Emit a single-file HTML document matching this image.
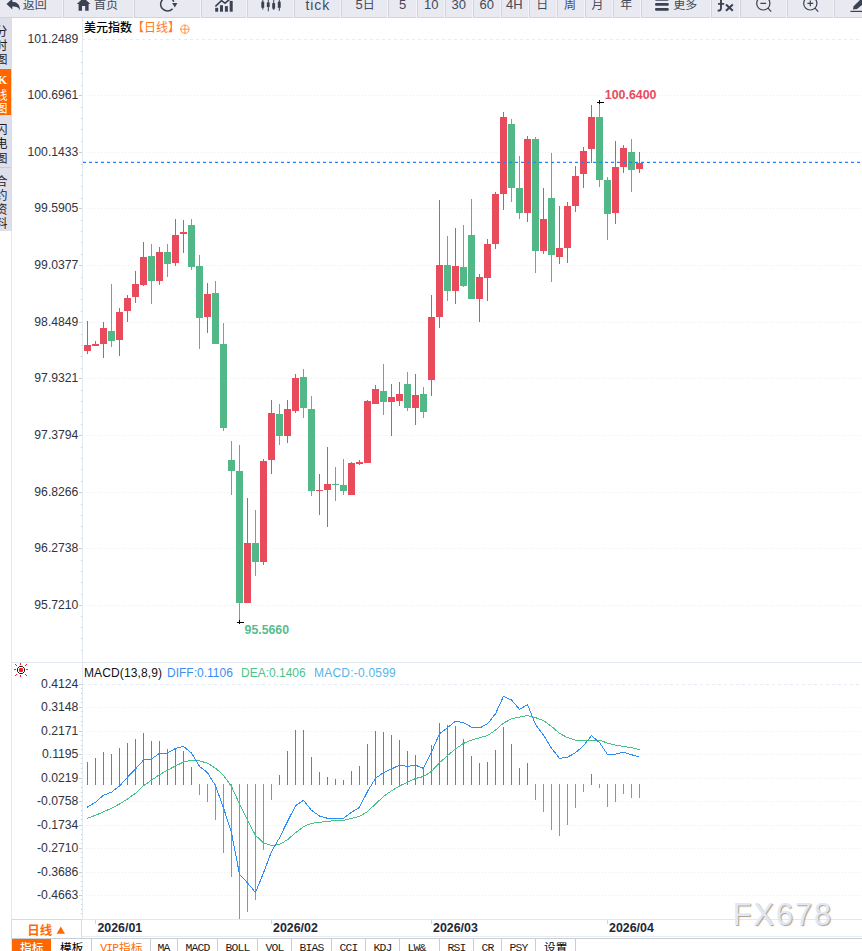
<!DOCTYPE html>
<html><head><meta charset="utf-8"><title>chart</title><style>
html,body{margin:0;padding:0;background:#fff;width:862px;height:951px;overflow:hidden}
#root{width:862px;height:951px;position:relative;overflow:hidden;font-family:"Liberation Sans",sans-serif}
.t{position:absolute;white-space:pre;line-height:1;margin:0}
.yl{font-size:12.2px;color:#30343f;text-align:right;width:66.4px;left:12px}
.tb{font-size:13px;color:#434a59}
.dt{font-size:12.4px;font-weight:bold;color:#23283a;top:921.6px}
.tab{font-family:"Liberation Mono",monospace;font-size:11.4px;color:#1a1a1a;top:942.6px;letter-spacing:-0.84px}
svg text{font-family:"Liberation Sans","Noto Sans CJK SC",sans-serif}
</style></head><body><div id="root">
<svg width="862" height="951" viewBox="0 0 862 951" shape-rendering="crispEdges" style="position:absolute;left:0;top:0">
<rect width="862" height="951" fill="#fff"/>
<g fill="#e1e8f0">
<rect x="11" y="18" width="1" height="933"/>
<rect x="82" y="18" width="1" height="902"/>
<rect x="12" y="662" width="850" height="1"/>
<rect x="12" y="919" width="850" height="1"/>
</g>
<g stroke="#eaeef2" stroke-width="1" fill="none">
<path d="M82 39.5 H862" stroke-dasharray="3 3" stroke="#e5ecf3"/>
<path d="M86 95.5 H862" stroke-dasharray="1 2"/>
<path d="M86 152.5 H862" stroke-dasharray="1 2"/>
<path d="M86 208.5 H862" stroke-dasharray="1 2"/>
<path d="M86 265.5 H862" stroke-dasharray="1 2"/>
<path d="M86 322.5 H862" stroke-dasharray="1 2"/>
<path d="M86 378.5 H862" stroke-dasharray="1 2"/>
<path d="M86 435.5 H862" stroke-dasharray="1 2"/>
<path d="M86 492.5 H862" stroke-dasharray="1 2"/>
<path d="M86 548.5 H862" stroke-dasharray="1 2"/>
<path d="M86 605.5 H862" stroke-dasharray="1 2"/>
<path d="M82 684.5 H862" stroke-dasharray="3 3" stroke="#e5ecf3"/>
<path d="M86 707.5 H862" stroke-dasharray="1 2"/>
<path d="M86 731.5 H862" stroke-dasharray="1 2"/>
<path d="M86 754.5 H862" stroke-dasharray="1 2"/>
<path d="M86 778.5 H862" stroke-dasharray="1 2"/>
<path d="M86 801.5 H862" stroke-dasharray="1 2"/>
<path d="M86 825.5 H862" stroke-dasharray="1 2"/>
<path d="M86 848.5 H862" stroke-dasharray="1 2"/>
<path d="M86 872.5 H862" stroke-dasharray="1 2"/>
<path d="M86 895.5 H862" stroke-dasharray="1 2"/>
</g>
<g fill="#c3cedb">
<rect x="81" y="51" width="1" height="1"/>
<rect x="81" y="62" width="1" height="1"/>
<rect x="81" y="73" width="1" height="1"/>
<rect x="81" y="85" width="1" height="1"/>
<rect x="79" y="95" width="3" height="1"/>
<rect x="81" y="107" width="1" height="1"/>
<rect x="81" y="118" width="1" height="1"/>
<rect x="81" y="129" width="1" height="1"/>
<rect x="81" y="141" width="1" height="1"/>
<rect x="79" y="152" width="3" height="1"/>
<rect x="81" y="164" width="1" height="1"/>
<rect x="81" y="175" width="1" height="1"/>
<rect x="81" y="186" width="1" height="1"/>
<rect x="81" y="198" width="1" height="1"/>
<rect x="79" y="208" width="3" height="1"/>
<rect x="81" y="220" width="1" height="1"/>
<rect x="81" y="231" width="1" height="1"/>
<rect x="81" y="242" width="1" height="1"/>
<rect x="81" y="254" width="1" height="1"/>
<rect x="79" y="265" width="3" height="1"/>
<rect x="81" y="277" width="1" height="1"/>
<rect x="81" y="288" width="1" height="1"/>
<rect x="81" y="299" width="1" height="1"/>
<rect x="81" y="311" width="1" height="1"/>
<rect x="79" y="322" width="3" height="1"/>
<rect x="81" y="334" width="1" height="1"/>
<rect x="81" y="345" width="1" height="1"/>
<rect x="81" y="356" width="1" height="1"/>
<rect x="81" y="368" width="1" height="1"/>
<rect x="79" y="378" width="3" height="1"/>
<rect x="81" y="390" width="1" height="1"/>
<rect x="81" y="401" width="1" height="1"/>
<rect x="81" y="412" width="1" height="1"/>
<rect x="81" y="424" width="1" height="1"/>
<rect x="79" y="435" width="3" height="1"/>
<rect x="81" y="447" width="1" height="1"/>
<rect x="81" y="458" width="1" height="1"/>
<rect x="81" y="469" width="1" height="1"/>
<rect x="81" y="481" width="1" height="1"/>
<rect x="79" y="492" width="3" height="1"/>
<rect x="81" y="504" width="1" height="1"/>
<rect x="81" y="515" width="1" height="1"/>
<rect x="81" y="526" width="1" height="1"/>
<rect x="81" y="538" width="1" height="1"/>
<rect x="79" y="548" width="3" height="1"/>
<rect x="81" y="560" width="1" height="1"/>
<rect x="81" y="571" width="1" height="1"/>
<rect x="81" y="582" width="1" height="1"/>
<rect x="81" y="594" width="1" height="1"/>
<rect x="79" y="605" width="3" height="1"/>
<rect x="81" y="616" width="1" height="1"/>
<rect x="81" y="627" width="1" height="1"/>
<rect x="81" y="638" width="1" height="1"/>
<rect x="81" y="650" width="1" height="1"/>
<rect x="79" y="684" width="3" height="1"/>
<rect x="81" y="688" width="1" height="1"/>
<rect x="81" y="693" width="1" height="1"/>
<rect x="81" y="698" width="1" height="1"/>
<rect x="81" y="702" width="1" height="1"/>
<rect x="79" y="707" width="3" height="1"/>
<rect x="81" y="711" width="1" height="1"/>
<rect x="81" y="716" width="1" height="1"/>
<rect x="81" y="721" width="1" height="1"/>
<rect x="81" y="725" width="1" height="1"/>
<rect x="79" y="731" width="3" height="1"/>
<rect x="81" y="735" width="1" height="1"/>
<rect x="81" y="740" width="1" height="1"/>
<rect x="81" y="745" width="1" height="1"/>
<rect x="81" y="749" width="1" height="1"/>
<rect x="79" y="754" width="3" height="1"/>
<rect x="81" y="758" width="1" height="1"/>
<rect x="81" y="763" width="1" height="1"/>
<rect x="81" y="768" width="1" height="1"/>
<rect x="81" y="772" width="1" height="1"/>
<rect x="79" y="778" width="3" height="1"/>
<rect x="81" y="782" width="1" height="1"/>
<rect x="81" y="787" width="1" height="1"/>
<rect x="81" y="792" width="1" height="1"/>
<rect x="81" y="796" width="1" height="1"/>
<rect x="79" y="801" width="3" height="1"/>
<rect x="81" y="805" width="1" height="1"/>
<rect x="81" y="810" width="1" height="1"/>
<rect x="81" y="815" width="1" height="1"/>
<rect x="81" y="819" width="1" height="1"/>
<rect x="79" y="825" width="3" height="1"/>
<rect x="81" y="829" width="1" height="1"/>
<rect x="81" y="834" width="1" height="1"/>
<rect x="81" y="839" width="1" height="1"/>
<rect x="81" y="843" width="1" height="1"/>
<rect x="79" y="848" width="3" height="1"/>
<rect x="81" y="852" width="1" height="1"/>
<rect x="81" y="857" width="1" height="1"/>
<rect x="81" y="862" width="1" height="1"/>
<rect x="81" y="866" width="1" height="1"/>
<rect x="79" y="872" width="3" height="1"/>
<rect x="81" y="876" width="1" height="1"/>
<rect x="81" y="881" width="1" height="1"/>
<rect x="81" y="886" width="1" height="1"/>
<rect x="81" y="890" width="1" height="1"/>
<rect x="79" y="895" width="3" height="1"/>
<rect x="81" y="899" width="1" height="1"/>
<rect x="81" y="904" width="1" height="1"/>
<rect x="81" y="909" width="1" height="1"/>
<rect x="81" y="913" width="1" height="1"/>
</g>
<g fill="#ea4b5c">
<rect x="87" y="321" width="1" height="33"/>
<rect x="84" y="345" width="7" height="6"/>
<rect x="95" y="341" width="1" height="5"/>
<rect x="92" y="344" width="7" height="2"/>
<rect x="103" y="322" width="1" height="36"/>
<rect x="100" y="328" width="7" height="16"/>
<rect x="119" y="308" width="1" height="48"/>
<rect x="116" y="312" width="7" height="28"/>
<rect x="127" y="295" width="1" height="27"/>
<rect x="124" y="298" width="7" height="13"/>
<rect x="135" y="271" width="1" height="32"/>
<rect x="132" y="284" width="7" height="13"/>
<rect x="143" y="242" width="1" height="44"/>
<rect x="140" y="257" width="7" height="28"/>
<rect x="159" y="247" width="1" height="38"/>
<rect x="156" y="252" width="7" height="29"/>
<rect x="175" y="219" width="1" height="47"/>
<rect x="172" y="235" width="7" height="28"/>
<rect x="183" y="220" width="1" height="33"/>
<rect x="180" y="232" width="7" height="2"/>
<rect x="207" y="283" width="1" height="50"/>
<rect x="204" y="294" width="7" height="23"/>
<rect x="247" y="498" width="1" height="105"/>
<rect x="244" y="543" width="7" height="60"/>
<rect x="263" y="459" width="1" height="106"/>
<rect x="260" y="461" width="7" height="101"/>
<rect x="271" y="400" width="1" height="74"/>
<rect x="268" y="413" width="7" height="47"/>
<rect x="287" y="400" width="1" height="43"/>
<rect x="284" y="409" width="7" height="27"/>
<rect x="295" y="374" width="1" height="39"/>
<rect x="292" y="378" width="7" height="33"/>
<rect x="319" y="474" width="1" height="41"/>
<rect x="316" y="490" width="7" height="1"/>
<rect x="327" y="447" width="1" height="80"/>
<rect x="324" y="484" width="7" height="6"/>
<rect x="351" y="462" width="1" height="33"/>
<rect x="348" y="463" width="7" height="32"/>
<rect x="359" y="460" width="1" height="5"/>
<rect x="356" y="462" width="7" height="2"/>
<rect x="367" y="400" width="1" height="63"/>
<rect x="364" y="401" width="7" height="62"/>
<rect x="375" y="385" width="1" height="19"/>
<rect x="372" y="389" width="7" height="15"/>
<rect x="391" y="384" width="1" height="52"/>
<rect x="388" y="397" width="7" height="5"/>
<rect x="399" y="382" width="1" height="24"/>
<rect x="396" y="394" width="7" height="7"/>
<rect x="415" y="374" width="1" height="51"/>
<rect x="412" y="395" width="7" height="13"/>
<rect x="431" y="295" width="1" height="101"/>
<rect x="428" y="317" width="7" height="63"/>
<rect x="439" y="200" width="1" height="128"/>
<rect x="436" y="265" width="7" height="52"/>
<rect x="455" y="228" width="1" height="76"/>
<rect x="452" y="266" width="7" height="25"/>
<rect x="479" y="274" width="1" height="48"/>
<rect x="476" y="277" width="7" height="22"/>
<rect x="487" y="239" width="1" height="62"/>
<rect x="484" y="244" width="7" height="34"/>
<rect x="495" y="192" width="1" height="57"/>
<rect x="492" y="194" width="7" height="50"/>
<rect x="503" y="112" width="1" height="98"/>
<rect x="500" y="117" width="7" height="77"/>
<rect x="527" y="136" width="1" height="86"/>
<rect x="524" y="139" width="7" height="74"/>
<rect x="543" y="188" width="1" height="66"/>
<rect x="540" y="219" width="7" height="32"/>
<rect x="559" y="206" width="1" height="58"/>
<rect x="556" y="248" width="7" height="9"/>
<rect x="567" y="202" width="1" height="61"/>
<rect x="564" y="206" width="7" height="42"/>
<rect x="575" y="166" width="1" height="46"/>
<rect x="572" y="176" width="7" height="30"/>
<rect x="583" y="147" width="1" height="41"/>
<rect x="580" y="151" width="7" height="23"/>
<rect x="591" y="105" width="1" height="58"/>
<rect x="588" y="117" width="7" height="32"/>
<rect x="615" y="141" width="1" height="83"/>
<rect x="612" y="167" width="7" height="46"/>
<rect x="623" y="145" width="1" height="28"/>
<rect x="620" y="148" width="7" height="19"/>
<rect x="639" y="152" width="1" height="21"/>
<rect x="636" y="163" width="7" height="6"/>
</g>
<g fill="#53b888">
<rect x="111" y="284" width="1" height="63"/>
<rect x="108" y="331" width="7" height="10"/>
<rect x="151" y="244" width="1" height="60"/>
<rect x="148" y="256" width="7" height="25"/>
<rect x="167" y="244" width="1" height="33"/>
<rect x="164" y="252" width="7" height="12"/>
<rect x="191" y="219" width="1" height="51"/>
<rect x="188" y="225" width="7" height="42"/>
<rect x="199" y="255" width="1" height="94"/>
<rect x="196" y="266" width="7" height="52"/>
<rect x="215" y="281" width="1" height="63"/>
<rect x="212" y="293" width="7" height="51"/>
<rect x="223" y="323" width="1" height="108"/>
<rect x="220" y="344" width="7" height="84"/>
<rect x="231" y="441" width="1" height="54"/>
<rect x="228" y="460" width="7" height="11"/>
<rect x="239" y="445" width="1" height="177"/>
<rect x="236" y="471" width="7" height="132"/>
<rect x="255" y="510" width="1" height="66"/>
<rect x="252" y="543" width="7" height="19"/>
<rect x="279" y="404" width="1" height="41"/>
<rect x="276" y="414" width="7" height="22"/>
<rect x="303" y="369" width="1" height="49"/>
<rect x="300" y="377" width="7" height="31"/>
<rect x="311" y="396" width="1" height="100"/>
<rect x="308" y="409" width="7" height="82"/>
<rect x="335" y="467" width="1" height="34"/>
<rect x="332" y="484" width="7" height="1"/>
<rect x="343" y="459" width="1" height="36"/>
<rect x="340" y="485" width="7" height="6"/>
<rect x="383" y="364" width="1" height="51"/>
<rect x="380" y="391" width="7" height="11"/>
<rect x="407" y="372" width="1" height="39"/>
<rect x="404" y="384" width="7" height="24"/>
<rect x="423" y="387" width="1" height="31"/>
<rect x="420" y="394" width="7" height="18"/>
<rect x="447" y="236" width="1" height="65"/>
<rect x="444" y="265" width="7" height="26"/>
<rect x="463" y="225" width="1" height="62"/>
<rect x="460" y="267" width="7" height="19"/>
<rect x="471" y="199" width="1" height="100"/>
<rect x="468" y="235" width="7" height="64"/>
<rect x="511" y="119" width="1" height="83"/>
<rect x="508" y="124" width="7" height="64"/>
<rect x="519" y="156" width="1" height="63"/>
<rect x="516" y="188" width="7" height="25"/>
<rect x="535" y="137" width="1" height="136"/>
<rect x="532" y="139" width="7" height="112"/>
<rect x="551" y="153" width="1" height="129"/>
<rect x="548" y="198" width="7" height="57"/>
<rect x="599" y="102" width="1" height="85"/>
<rect x="596" y="117" width="7" height="63"/>
<rect x="607" y="177" width="1" height="63"/>
<rect x="604" y="180" width="7" height="34"/>
<rect x="631" y="139" width="1" height="53"/>
<rect x="628" y="152" width="7" height="18"/>
</g>
<path d="M83 162.4 H862" stroke="#1b87fb" stroke-width="1.3" stroke-dasharray="3 3" fill="none" shape-rendering="geometricPrecision"/>
<g fill="#000">
<rect x="597" y="102" width="7" height="1"/><rect x="599" y="100" width="1" height="4"/>
<rect x="237" y="622" width="7" height="1"/><rect x="239" y="620" width="1" height="4"/>
</g>
<g fill="#ea4b5c">
<rect x="87" y="762" width="1" height="23"/>
<rect x="95" y="758" width="1" height="27"/>
<rect x="103" y="752" width="1" height="33"/>
<rect x="111" y="754" width="1" height="31"/>
<rect x="119" y="748" width="1" height="37"/>
<rect x="127" y="743" width="1" height="42"/>
<rect x="135" y="739" width="1" height="46"/>
<rect x="143" y="733" width="1" height="52"/>
<rect x="151" y="741" width="1" height="44"/>
<rect x="159" y="741" width="1" height="44"/>
<rect x="167" y="749" width="1" height="36"/>
<rect x="175" y="748" width="1" height="37"/>
<rect x="183" y="751" width="1" height="34"/>
<rect x="191" y="767" width="1" height="18"/>
<rect x="279" y="775" width="1" height="10"/>
<rect x="287" y="751" width="1" height="34"/>
<rect x="295" y="730" width="1" height="55"/>
<rect x="303" y="730" width="1" height="55"/>
<rect x="311" y="757" width="1" height="28"/>
<rect x="319" y="772" width="1" height="13"/>
<rect x="327" y="777" width="1" height="8"/>
<rect x="335" y="779" width="1" height="6"/>
<rect x="343" y="780" width="1" height="5"/>
<rect x="351" y="771" width="1" height="14"/>
<rect x="359" y="766" width="1" height="19"/>
<rect x="367" y="744" width="1" height="41"/>
<rect x="375" y="731" width="1" height="54"/>
<rect x="383" y="732" width="1" height="53"/>
<rect x="391" y="735" width="1" height="50"/>
<rect x="399" y="740" width="1" height="45"/>
<rect x="407" y="751" width="1" height="34"/>
<rect x="415" y="755" width="1" height="30"/>
<rect x="423" y="767" width="1" height="18"/>
<rect x="431" y="745" width="1" height="40"/>
<rect x="439" y="723" width="1" height="62"/>
<rect x="447" y="725" width="1" height="60"/>
<rect x="455" y="726" width="1" height="59"/>
<rect x="463" y="739" width="1" height="46"/>
<rect x="471" y="756" width="1" height="29"/>
<rect x="479" y="763" width="1" height="22"/>
<rect x="487" y="762" width="1" height="23"/>
<rect x="495" y="750" width="1" height="35"/>
<rect x="503" y="727" width="1" height="58"/>
<rect x="511" y="744" width="1" height="41"/>
<rect x="519" y="768" width="1" height="17"/>
<rect x="527" y="763" width="1" height="22"/>
<rect x="591" y="774" width="1" height="11"/>
</g>
<g fill="#53b888">
<rect x="199" y="784" width="1" height="11"/>
<rect x="207" y="784" width="1" height="18"/>
<rect x="215" y="784" width="1" height="36"/>
<rect x="223" y="784" width="1" height="69"/>
<rect x="231" y="784" width="1" height="93"/>
<rect x="239" y="784" width="1" height="135"/>
<rect x="247" y="784" width="1" height="128"/>
<rect x="255" y="784" width="1" height="116"/>
<rect x="263" y="784" width="1" height="66"/>
<rect x="271" y="784" width="1" height="16"/>
<rect x="535" y="784" width="1" height="16"/>
<rect x="543" y="784" width="1" height="28"/>
<rect x="551" y="784" width="1" height="46"/>
<rect x="559" y="784" width="1" height="52"/>
<rect x="567" y="784" width="1" height="41"/>
<rect x="575" y="784" width="1" height="24"/>
<rect x="583" y="784" width="1" height="8"/>
<rect x="599" y="784" width="1" height="4"/>
<rect x="607" y="784" width="1" height="23"/>
<rect x="615" y="784" width="1" height="18"/>
<rect x="623" y="784" width="1" height="10"/>
<rect x="631" y="784" width="1" height="14"/>
<rect x="639" y="784" width="1" height="14"/>
</g>
<g fill="none" stroke-width="1" shape-rendering="crispEdges" stroke-linejoin="round">
<polyline stroke="#45c386" points="87,818.3 95.5,815.3 103.5,811.8 111.5,808.3 119.5,804 127.5,799 135.5,793.2 143.5,785.7 151.5,780.2 159.5,774.7 167.5,770.2 175.5,765.9 183.5,762.1 191.5,760.1 199.5,760.9 207.5,763.1 215.5,768.2 223.5,775.2 231.5,786.5 239.5,804 247.5,820.3 255.5,835.3 263.5,842.9 271.5,845.4 279.5,844.4 287.5,839.8 295.5,832.8 303.5,826.6 311.5,823.3 319.5,822.3 327.5,821.3 335.5,820.6 343.5,820.3 351.5,818.3 359.5,816.5 367.5,811.5 375.5,804 383.5,796.5 391.5,790.7 399.5,786 407.5,782.2 415.5,778.5 423.5,776.5 431.5,771.4 439.5,762.7 447.5,755.7 455.5,748.9 463.5,743.4 471.5,740.1 479.5,737.8 487.5,735.6 495.5,730.1 503.5,723.1 511.5,718.8 519.5,717.1 527.5,715.6 535.5,717.6 543.5,720.6 551.5,726.4 559.5,733.4 567.5,737.6 575.5,740.1 583.5,740.9 591.5,740.1 599.5,740.1 607.5,743.1 615.5,745.2 623.5,746.4 631.5,747.7 639.5,749.7"/>
<polyline stroke="#2a8cf8" points="87,807.3 95.5,802.2 103.5,795.2 111.5,792.2 119.5,786 127.5,777.2 135.5,768.9 143.5,760.1 151.5,758.9 159.5,753.4 167.5,753.1 175.5,748.4 183.5,746.4 191.5,753.1 199.5,766.4 207.5,772.7 215.5,785.7 223.5,807.8 231.5,832.8 239.5,874.2 247.5,882.9 255.5,892.5 263.5,872.9 271.5,851.6 279.5,837.8 287.5,821.5 295.5,805.8 303.5,800.3 311.5,810.3 319.5,816 327.5,818.3 335.5,818.6 343.5,818.3 351.5,812.3 359.5,807.3 367.5,791.5 375.5,778.2 383.5,772.7 391.5,768.9 399.5,765.2 407.5,766.4 415.5,765.2 423.5,768.4 431.5,752.1 439.5,733.9 447.5,727.6 455.5,721.3 463.5,722.6 471.5,727.1 479.5,728 487.5,723.9 495.5,713.8 503.5,696.3 511.5,700 519.5,709.3 527.5,704.6 535.5,724.6 543.5,735.1 551.5,748.2 559.5,758.4 567.5,757.2 575.5,752.7 583.5,745.7 591.5,735.6 599.5,742.6 607.5,754.4 615.5,754.2 623.5,752.2 631.5,754.7 639.5,757.2"/>
</g>
<rect x="0" y="0" width="862" height="17" fill="#e9e9f2"/>
<rect x="0" y="17" width="862" height="1" fill="#d2d3dc"/>
<g>
<rect x="63" y="0" width="1" height="18" fill="#d2d3dc"/><rect x="62" y="0" width="1" height="18" fill="#f3f3f9"/>
<rect x="134" y="0" width="1" height="18" fill="#d2d3dc"/><rect x="133" y="0" width="1" height="18" fill="#f3f3f9"/>
<rect x="201" y="0" width="1" height="18" fill="#d2d3dc"/><rect x="200" y="0" width="1" height="18" fill="#f3f3f9"/>
<rect x="247" y="0" width="1" height="18" fill="#d2d3dc"/><rect x="246" y="0" width="1" height="18" fill="#f3f3f9"/>
<rect x="294" y="0" width="1" height="18" fill="#d2d3dc"/><rect x="293" y="0" width="1" height="18" fill="#f3f3f9"/>
<rect x="341" y="0" width="1" height="18" fill="#d2d3dc"/><rect x="340" y="0" width="1" height="18" fill="#f3f3f9"/>
<rect x="388" y="0" width="1" height="18" fill="#d2d3dc"/><rect x="387" y="0" width="1" height="18" fill="#f3f3f9"/>
<rect x="417" y="0" width="1" height="18" fill="#d2d3dc"/><rect x="416" y="0" width="1" height="18" fill="#f3f3f9"/>
<rect x="445" y="0" width="1" height="18" fill="#d2d3dc"/><rect x="444" y="0" width="1" height="18" fill="#f3f3f9"/>
<rect x="473" y="0" width="1" height="18" fill="#d2d3dc"/><rect x="472" y="0" width="1" height="18" fill="#f3f3f9"/>
<rect x="501" y="0" width="1" height="18" fill="#d2d3dc"/><rect x="500" y="0" width="1" height="18" fill="#f3f3f9"/>
<rect x="529" y="0" width="1" height="18" fill="#d2d3dc"/><rect x="528" y="0" width="1" height="18" fill="#f3f3f9"/>
<rect x="557" y="0" width="1" height="18" fill="#d2d3dc"/><rect x="556" y="0" width="1" height="18" fill="#f3f3f9"/>
<rect x="585" y="0" width="1" height="18" fill="#d2d3dc"/><rect x="584" y="0" width="1" height="18" fill="#f3f3f9"/>
<rect x="613" y="0" width="1" height="18" fill="#d2d3dc"/><rect x="612" y="0" width="1" height="18" fill="#f3f3f9"/>
<rect x="641" y="0" width="1" height="18" fill="#d2d3dc"/><rect x="640" y="0" width="1" height="18" fill="#f3f3f9"/>
<rect x="711" y="0" width="1" height="18" fill="#d2d3dc"/><rect x="710" y="0" width="1" height="18" fill="#f3f3f9"/>
<rect x="740" y="0" width="1" height="18" fill="#d2d3dc"/><rect x="739" y="0" width="1" height="18" fill="#f3f3f9"/>
<rect x="787" y="0" width="1" height="18" fill="#d2d3dc"/><rect x="786" y="0" width="1" height="18" fill="#f3f3f9"/>
<rect x="834" y="0" width="1" height="18" fill="#d2d3dc"/><rect x="833" y="0" width="1" height="18" fill="#f3f3f9"/>
</g>
<g shape-rendering="geometricPrecision">
<path d="M6.5 4.1 L12.3 -1.3 V1.7 C17 1.7 20 4.5 20 10.4 C18.8 7.5 16.6 6.5 12.3 6.5 V9.5 Z" fill="#3b4252"/>
<text x="22.8" y="9" font-size="12" fill="#434a59">返回</text>
<path d="M76.8 4 L83.6 -2.2 L90.4 4 H88.6 V10.7 H85.2 V6 H82 V10.7 H78.6 V4 Z" fill="#3b4252"/>
<text x="94" y="9" font-size="12" fill="#434a59">首页</text>
<path d="M172.6 8.7 A6.8 6.8 0 1 1 173.8 1.8" fill="none" stroke="#3b4252" stroke-width="1.5"/>
<path d="M172.2 3 H177.4 L174.8 7.4 Z" fill="#3b4252"/>
<g fill="#3b4252"><rect x="215.2" y="7.8" width="3" height="3.9"/><rect x="220" y="5.2" width="3" height="6.5"/><rect x="224.9" y="6.1" width="3" height="5.6"/><rect x="229.7" y="0.9" width="3" height="10.8"/></g>
<path d="M215.4 6.4 L221.5 0.6 L225 3.2 L232.4 -3" fill="none" stroke="#3b4252" stroke-width="1.6"/>
<g fill="#3b4252"><rect x="261.3" y="1.7" width="2.9" height="6.1"/><rect x="262.3" y="-3" width="1" height="12.6"/><rect x="266.8" y="2.4" width="2.9" height="4.6"/><rect x="267.8" y="-3" width="1" height="14.3"/><rect x="272.2" y="3.1" width="2.9" height="5.6"/><rect x="273.2" y="-3" width="1" height="13"/><rect x="277.8" y="1.7" width="2.9" height="6.1"/><rect x="278.8" y="-3" width="1" height="13.8"/></g>
<text x="362.7" y="9" font-size="12" fill="#434a59">日</text>
<text x="536.3" y="9" font-size="12" fill="#434a59">日</text>
<text x="564" y="9" font-size="12" fill="#434a59">周</text>
<text x="591.5" y="9" font-size="12" fill="#434a59">月</text>
<text x="620.3" y="9" font-size="12" fill="#434a59">年</text>
<text x="673.3" y="9" font-size="12" fill="#434a59">更多</text>
<g fill="#3b4252"><rect x="655" y="-1.9" width="13.8" height="2.7" rx="1.3"/><rect x="655" y="3.1" width="13.8" height="2.7" rx="1.3"/><rect x="655" y="8" width="13.8" height="2.7" rx="1.3"/></g>
<g fill="none" stroke="#3b4252" stroke-width="1.2"><circle cx="763.3" cy="3.4" r="6.6"/><path d="M768 8.2 L771.2 11.6 M760.4 3.4 H766.2"/><circle cx="810.3" cy="3.4" r="6.6"/><path d="M815 8.2 L818.2 11.6 M807.4 3.4 H813.2 M810.3 0.5 V6.3"/></g>
<path d="M725.4 -2.6 C722.6 -3.2 721 -2 721 0.6 V8 C721 10 720 10.8 717.6 10.6 M718 3.9 H724.2" fill="none" stroke="#3b4252" stroke-width="1.9"/>
<path d="M726 4.4 L732.8 10.8 M732.8 4.4 L726 10.8" fill="none" stroke="#3b4252" stroke-width="2"/>
<path d="M853 9.6 L853.6 6.2 L862 -2 L866 2 L857 9 Z" fill="#3b4252"/><rect x="850.4" y="10.8" width="12" height="1.2" fill="#3b4252"/>
</g>
<rect x="0" y="18" width="12" height="213" fill="#dedfe8"/>
<rect x="11" y="18" width="1" height="213" fill="#d9dbe5"/>
<rect x="0" y="69" width="11" height="46" fill="#ff6600"/>
<rect x="0" y="167" width="11" height="1" fill="#c9cbd6"/>
<g shape-rendering="geometricPrecision" font-size="12" text-anchor="middle">
<g fill="#1c1c28">
<text x="1.5" y="35.8">分</text>
<text x="1.5" y="49.8">时</text>
<text x="1.5" y="64.2">图</text>
</g>
<g fill="#fff">
<text x="1.5" y="100.3">线</text>
<text x="1.5" y="113.4">图</text>
</g>
<g fill="#1c1c28">
<text x="1.5" y="134">闪</text>
<text x="1.5" y="148.4">电</text>
<text x="1.5" y="163.2">图</text>
<text x="1.5" y="186.3">合</text>
<text x="1.5" y="200">约</text>
<text x="1.5" y="213.8">资</text>
<text x="1.5" y="227.5">料</text>
</g>
</g>
<g shape-rendering="geometricPrecision">
<text x="84" y="31.8" font-size="12" fill="#000"><tspan font-weight="500">美元指数</tspan><tspan fill="#ff7a1a">【日线】</tspan></text>
<circle cx="184.9" cy="29.2" r="4.2" fill="none" stroke="#ff7a1a" stroke-width="0.8"/><path d="M180.7 29.2 H189.1 M184.9 25 V33.4" stroke="#ff7a1a" stroke-width="0.8" fill="none"/>
</g>
<path d="M19.5 666.5 H22.5 L24.5 668.5 V671.5 L22.5 673.5 H19.5 L17.5 671.5 V668.5 Z" fill="#fff" stroke="#111" stroke-width="1" shape-rendering="geometricPrecision"/>
<g fill="#ff1a1a"><rect x="19" y="668" width="4" height="4" rx="1" shape-rendering="geometricPrecision"/>
<rect x="20" y="663" width="1" height="2"/>
<rect x="20" y="675" width="1" height="2"/>
<rect x="14" y="669" width="2" height="1"/>
<rect x="26" y="669" width="2" height="1"/>
<rect x="15" y="664" width="1" height="1"/>
<rect x="16" y="665" width="1" height="1"/>
<rect x="26" y="664" width="1" height="1"/>
<rect x="25" y="665" width="1" height="1"/>
<rect x="15" y="675" width="1" height="1"/>
<rect x="16" y="674" width="1" height="1"/>
<rect x="26" y="675" width="1" height="1"/>
<rect x="25" y="674" width="1" height="1"/>
</g>
<rect x="11" y="919" width="70" height="19" fill="#fff" stroke="#d3dbe5" stroke-width="1" transform="translate(0.5,0.5)"/>
<g shape-rendering="geometricPrecision">
<text x="27.3" y="935.3" font-size="12.5" font-weight="bold" fill="#ff6a00">日线</text>
<path d="M56.6 933.8 L60.8 926.4 L65 933.8 Z" fill="#ff6a00"/>
</g>
<g fill="#cfd8e3">
<rect x="95" y="920" width="1" height="4"/>
<rect x="271" y="920" width="1" height="4"/>
<rect x="431" y="920" width="1" height="4"/>
<rect x="607" y="920" width="1" height="4"/>
</g>
<rect x="82" y="936" width="780" height="1" fill="#e6ecf2"/>
<rect x="12" y="938" width="850" height="1" fill="#c9ced6"/>
<rect x="12" y="939" width="39" height="12" fill="#ff6600"/>
<g fill="#c9ced6">
<rect x="91" y="939" width="1" height="12"/>
<rect x="150" y="939" width="1" height="12"/>
<rect x="177" y="939" width="1" height="12"/>
<rect x="217" y="939" width="1" height="12"/>
<rect x="257" y="939" width="1" height="12"/>
<rect x="291" y="939" width="1" height="12"/>
<rect x="331" y="939" width="1" height="12"/>
<rect x="365" y="939" width="1" height="12"/>
<rect x="399" y="939" width="1" height="12"/>
<rect x="439" y="939" width="1" height="12"/>
<rect x="473" y="939" width="1" height="12"/>
<rect x="501" y="939" width="1" height="12"/>
<rect x="535" y="939" width="1" height="12"/>
<rect x="575" y="939" width="1" height="12"/>
</g>
<g shape-rendering="geometricPrecision" font-size="11.7">
<text x="20" y="951.5" fill="#fff" font-weight="500">指标</text>
<text x="60" y="951.5" fill="#000">模板</text>
<text x="119" y="951.5" fill="#ff6a00">指标</text>
<text x="544" y="951.5" fill="#000">设置</text>
</g>
</svg>
<div class="t yl" style="top:33px">101.2489</div>
<div class="t yl" style="top:89px">100.6961</div>
<div class="t yl" style="top:146px">100.1433</div>
<div class="t yl" style="top:202px">99.5905</div>
<div class="t yl" style="top:259px">99.0377</div>
<div class="t yl" style="top:316px">98.4849</div>
<div class="t yl" style="top:372px">97.9321</div>
<div class="t yl" style="top:429px">97.3794</div>
<div class="t yl" style="top:486px">96.8266</div>
<div class="t yl" style="top:542px">96.2738</div>
<div class="t yl" style="top:599px">95.7210</div>
<div class="t yl" style="top:678px">0.4124</div>
<div class="t yl" style="top:701px">0.3148</div>
<div class="t yl" style="top:725px">0.2171</div>
<div class="t yl" style="top:748px">0.1195</div>
<div class="t yl" style="top:772px">0.0219</div>
<div class="t yl" style="top:795px">-0.0758</div>
<div class="t yl" style="top:819px">-0.1734</div>
<div class="t yl" style="top:842px">-0.2710</div>
<div class="t yl" style="top:866px">-0.3686</div>
<div class="t yl" style="top:889px">-0.4663</div>
<div class="t" style="left:305.5px;top:-2.5px;font-size:14px;letter-spacing:0.9px;color:#434a59">tick</div>
<div class="t tb" style="left:355.5px;top:-2px">5</div>
<div class="t tb" style="left:399px;top:-2px">5</div>
<div class="t tb" style="left:424px;top:-2px">10</div>
<div class="t tb" style="left:451.5px;top:-2px">30</div>
<div class="t tb" style="left:479.5px;top:-2px">60</div>
<div class="t tb" style="left:506px;top:-2px">4H</div>
<div class="t" style="left:604.8px;top:89px;font-size:12.4px;font-weight:bold;color:#ea4b5c">100.6400</div>
<div class="t" style="left:244.6px;top:623.5px;font-size:12.3px;font-weight:bold;color:#59bc8d">95.5660</div>
<div class="t" style="left:84px;top:667px;font-size:12px;letter-spacing:0.12px;color:#111">MACD(13,8,9)</div>
<div class="t" style="left:167px;top:667px;font-size:12px;color:#3a8ef3">DIFF:0.1106</div>
<div class="t" style="left:241px;top:667px;font-size:12px;color:#4cc487">DEA:0.1406</div>
<div class="t" style="left:314px;top:667px;font-size:12px;letter-spacing:0.22px;color:#55b4ea">MACD:-0.0599</div>
<div class="t dt" style="left:97.4px">2026/01</div>
<div class="t dt" style="left:273px">2026/02</div>
<div class="t dt" style="left:433px">2026/03</div>
<div class="t dt" style="left:609px">2026/04</div>
<div class="t tab" style="left:100.3px;color:#ff6a00">VIP</div>
<div class="t tab" style="left:157.6px">MA</div>
<div class="t tab" style="left:185.6px">MACD</div>
<div class="t tab" style="left:225.6px">BOLL</div>
<div class="t tab" style="left:265.6px">VOL</div>
<div class="t tab" style="left:299.6px">BIAS</div>
<div class="t tab" style="left:339.6px">CCI</div>
<div class="t tab" style="left:373.6px">KDJ</div>
<div class="t tab" style="left:407.6px">LW&</div>
<div class="t tab" style="left:447.6px">RSI</div>
<div class="t tab" style="left:481.6px">CR</div>
<div class="t tab" style="left:509.6px">PSY</div>
<div class="t" style="left:-2.4px;top:73.6px;font-family:'Liberation Serif',serif;font-size:12.5px;font-weight:bold;color:#fff">K</div>
<div class="t" style="left:732.8px;top:899.3px;font-size:30.6px;letter-spacing:2px;color:#dde9f8;text-shadow:1px 1px 1px rgba(140,115,90,.7)">FX678</div>
</div></body></html>
